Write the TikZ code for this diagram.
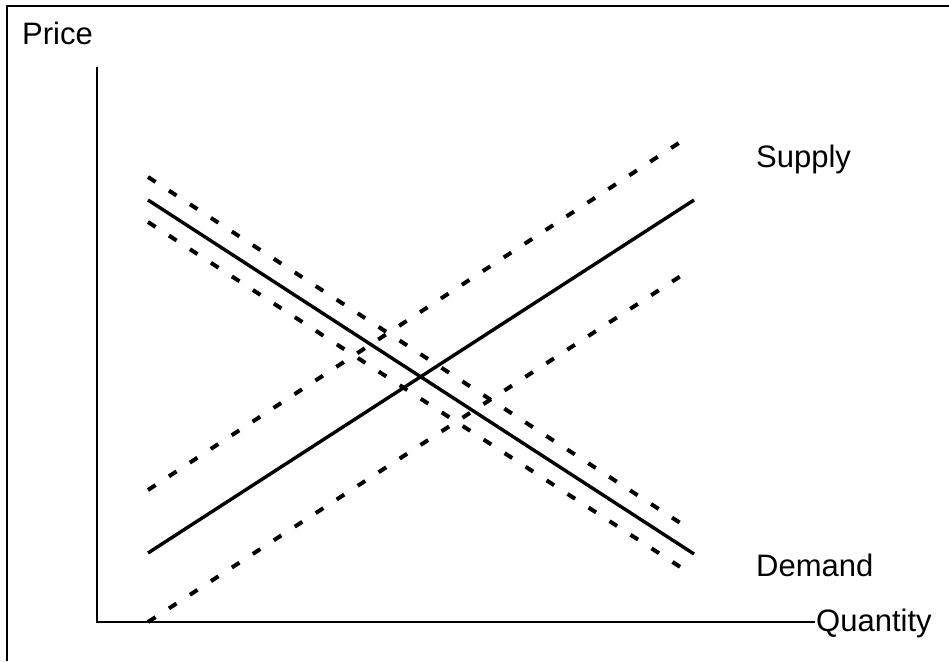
\documentclass[tikz,border=0pt]{standalone}
\usepackage{fontspec}
\setmainfont{Liberation Sans}
\begin{document}
\begin{tikzpicture}[x=1pt,y=-1pt,
  frameline/.style={line width=2.5pt},
  axisline/.style={line width=2.2pt},
  curve/.style={line width=3.4pt},
  shifted/.style={line width=4pt, dash pattern=on 9pt off 16pt},
  lbl/.style={anchor=base west, inner sep=0pt, font=\fontsize{31}{37}\selectfont}]
\useasboundingbox (0,0) rectangle (949,661);
% frame (cropped)
\draw[frameline] (7,661) -- (7,6) -- (949,6);
% axes
\coordinate (ytop) at (97,67);
\coordinate (origin) at (97,622);
\coordinate (xend) at (815,622);
\draw[axisline] (ytop) -- (origin) -- (xend);
% labels
\node[lbl] (price) at (22,45) {Price};
\node[lbl] (supply) at (756,167) {Supply};
\node[lbl] (demand) at (756,576) {Demand};
\node[lbl] (quantity) at (816,631) {Quantity};
% curves
\coordinate (s0) at (148,553); \coordinate (s1) at (694,200);
\coordinate (d0) at (148,200); \coordinate (d1) at (694,554);
\coordinate (su0) at (148,490); \coordinate (su1) at (688,137);
\coordinate (sl0) at (148,622); \coordinate (sl1) at (690,270);
\coordinate (du0) at (148,177); \coordinate (du1) at (688,528);
\coordinate (dl0) at (148,222); \coordinate (dl1) at (688,572);
\draw[curve] (s0) -- (s1);
\draw[curve] (d0) -- (d1);
\draw[shifted] (su0) -- (su1);
\draw[shifted] (sl0) -- (sl1);
\draw[shifted] (du0) -- (du1);
\draw[shifted] (dl0) -- (dl1);
\end{tikzpicture}
\end{document}
